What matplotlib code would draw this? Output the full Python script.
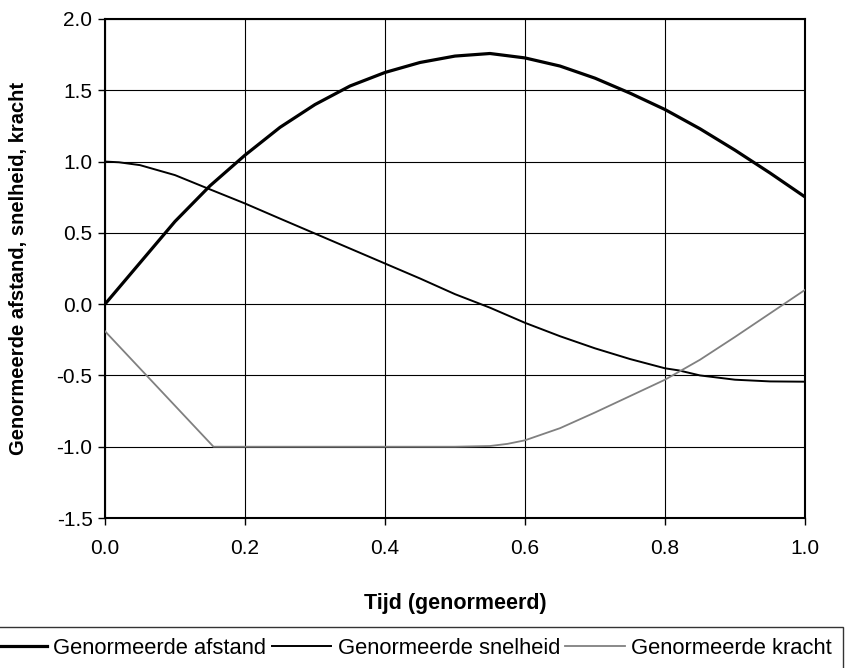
import matplotlib
matplotlib.use('Agg')
from matplotlib import pyplot as plt

plt.rcParams['font.family'] = ['Liberation Sans', 'DejaVu Sans']

# data
t_afstand = [0.0, 0.05, 0.1, 0.15, 0.2, 0.25, 0.3, 0.35, 0.4, 0.45, 0.5, 0.55,
             0.6, 0.65, 0.7, 0.75, 0.8, 0.85, 0.9, 0.95, 1.0]
afstand = [0.0, 0.29, 0.58, 0.83, 1.045, 1.24, 1.40, 1.53, 1.625, 1.695, 1.74, 1.758,
           1.727, 1.67, 1.585, 1.48, 1.365, 1.23, 1.08, 0.92, 0.752]

t_snelheid = [0.0, 0.02, 0.05, 0.1, 0.15, 0.2, 0.25, 0.3, 0.35, 0.4, 0.45, 0.5,
              0.55, 0.6, 0.65, 0.7, 0.75, 0.8, 0.82, 0.85, 0.9, 0.95, 1.0]
snelheid = [1.0, 0.995, 0.975, 0.905, 0.805, 0.706, 0.60, 0.495, 0.39, 0.285, 0.18, 0.07,
            -0.025, -0.131, -0.225, -0.31, -0.385, -0.45, -0.465, -0.50, -0.53, -0.542, -0.544]

t_kracht = [0.0, 0.155, 0.5, 0.55, 0.575, 0.6, 0.65, 0.7, 0.75, 0.8, 0.85, 0.9, 0.95, 1.0]
kracht = [-0.19, -1.0, -1.0, -0.995, -0.98, -0.955, -0.87, -0.76, -0.645, -0.53,
          -0.39, -0.23, -0.065, 0.10]

xticks = [0.0, 0.2, 0.4, 0.6, 0.8, 1.0]
yticks = [-1.5, -1.0, -0.5, 0.0, 0.5, 1.0, 1.5, 2.0]

fig = plt.figure(figsize=(8.5, 6.68), dpi=100)
ax = fig.add_axes([105/850, 1-518/668, 700/850, 499/668])

ax.plot(t_afstand, afstand, color='black', lw=2.3, label='Genormeerde afstand', zorder=3)
ax.plot(t_snelheid, snelheid, color='black', lw=1.4, label='Genormeerde snelheid', zorder=3)
ax.plot(t_kracht, kracht, color='#808080', lw=1.3, label='Genormeerde kracht', zorder=3)

ax.set_xlim(0, 1)
ax.set_ylim(-1.5, 2.0)
ax.set_xticks(xticks)
ax.set_yticks(yticks)
ax.set_xticklabels(['%.1f' % v for v in xticks])
ax.set_yticklabels(['%.1f' % v for v in yticks])
ax.grid(True, color='black', lw=0.8)
ax.set_axisbelow(True)
for s in ax.spines.values():
    s.set_linewidth(1.5)
ax.tick_params(axis='x', direction='out', length=5, width=1, labelsize=15, pad=10)
ax.tick_params(axis='y', direction='out', length=5, width=1, labelsize=15, pad=4)

ax.set_xlabel('Tijd (genormeerd)', fontsize=15.5, fontweight='bold')
ax.xaxis.set_label_coords(0.5, -0.15)
ax.set_ylabel('Genormeerde afstand, snelheid, kracht', fontsize=14.5, fontweight='bold')
ax.yaxis.set_label_coords(-0.11, 0.5)

leg = fig.legend(loc='upper right', bbox_to_anchor=(843/850, 1-627/668), ncol=3,
                 fontsize=15.8, frameon=True, fancybox=False, handlelength=2.7,
                 handletextpad=0.3, columnspacing=0.25, borderpad=0.5, borderaxespad=0)
leg.get_frame().set_edgecolor('black')
leg.get_frame().set_linewidth(1.0)

plt.savefig('out.png', dpi=100)
